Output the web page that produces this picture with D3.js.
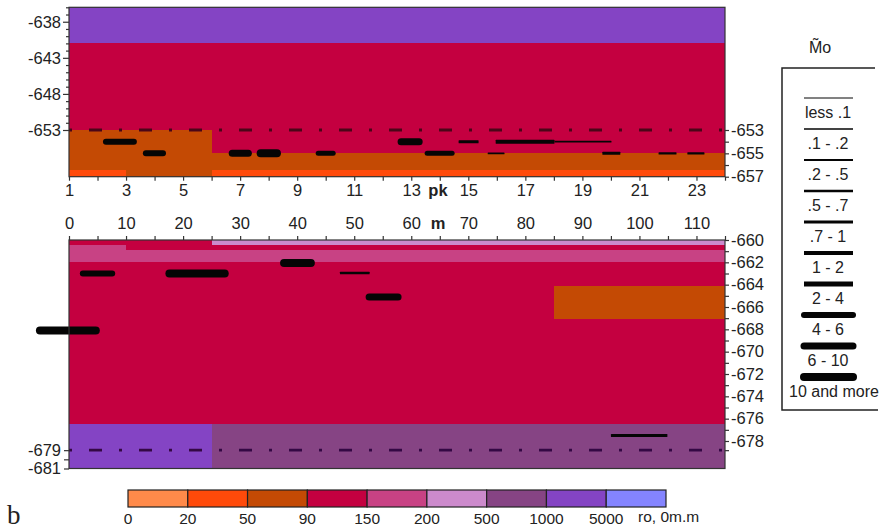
<!DOCTYPE html>
<html><head><meta charset="utf-8">
<script src="https://cdn.jsdelivr.net/npm/d3@7/dist/d3.min.js"></script>
<style>
body{margin:0;background:#fff;}
text{font-family:"Liberation Sans",Arial,Helvetica,sans-serif;fill:#222;}
</style></head><body>
<svg id="c" width="888" height="531"></svg>
<script>
// ---------------- DATA ----------------
const resLabels = ["0","20","50","90","150","200","500","1000","5000"];
const resUnit = "ro, 0m.m";
const moClasses = ["less .1",".1 - .2",".2 - .5",".5 - .7",".7 - 1","1 - 2","2 - 4","4 - 6","6 - 10","10 and more"];
const moTitle = "M\u0303o";

// upper section (pk, absolute depth, resistivity class index)
const pkLabels = [1,3,5,7,9,11,13,15,17,19,21,23];
const topDepthLabelsLeft = [-638,-643,-648,-653];
const topDepthLabelsRight = [-653,-655,-657];
const topLayers = [
  {x0:1, x1:24, d0:-636,  d1:-641,  c:7},
  {x0:1, x1:24, d0:-641,  d1:-653,  c:3},
  {x0:1, x1:6,  d0:-653,  d1:-657,  c:2},
  {x0:1, x1:3,  d0:-656.4,d1:-657,  c:1},
  {x0:6, x1:24, d0:-653,  d1:-655,  c:3},
  {x0:6, x1:24, d0:-655,  d1:-656.4,c:2},
  {x0:6, x1:24, d0:-656.4,d1:-657,  c:1}
];
const topBars = [
  {x0:2.19, x1:3.38, d:-654, c:7},
  {x0:3.59, x1:4.40, d:-655, c:7},
  {x0:6.60, x1:7.41, d:-655, c:8},
  {x0:7.58, x1:8.43, d:-655, c:9},
  {x0:9.65, x1:10.35,d:-655, c:6},
  {x0:12.52,x1:13.40,d:-654, c:8},
  {x0:13.47,x1:14.52,d:-655, c:6},
  {x0:14.66,x1:15.36,d:-654, c:4},
  {x0:15.96,x1:18.02,d:-654, c:5},
  {x0:18.02,x1:20.02,d:-654, c:2},
  {x0:15.68,x1:16.27,d:-655, c:2},
  {x0:19.70,x1:20.33,d:-655, c:4},
  {x0:21.67,x1:22.30,d:-655, c:3},
  {x0:22.68,x1:23.28,d:-655, c:3}
];
const topMarker = -653;

// lower section (m, absolute depth)
const mLabels = [0,10,20,30,40,50,60,70,80,90,100,110];
const lowDepthLabelsRight = [-660,-662,-664,-666,-668,-670,-672,-674,-676,-678];
const lowDepthLabelsLeft = [-679,-681];
const lowLayers = [
  {x0:0,  x1:115, d0:-660,   d1:-676.5, c:3},
  {x0:0,  x1:10,  d0:-660.45,d1:-662,   c:4},
  {x0:10, x1:115, d0:-660.9, d1:-662,   c:4},
  {x0:25, x1:115, d0:-660,   d1:-660.45,c:5},
  {x0:85, x1:115, d0:-664.1, d1:-667.1, c:2},
  {x0:0,  x1:25,  d0:-676.5, d1:-681,   c:7},
  {x0:25, x1:115, d0:-676.5, d1:-681,   c:6}
];
const lowBars = [
  {x0:-5.8, x1:5.4,  d:-668.1, c:9},
  {x0:1.9,  x1:8.1,  d:-663.0, c:7},
  {x0:16.9, x1:28.0, d:-663.0, c:9},
  {x0:37.0, x1:43.1, d:-662.05,c:9},
  {x0:47.5, x1:52.7, d:-662.95,c:3},
  {x0:52.0, x1:58.3, d:-665.1, c:8},
  {x0:95.0, x1:104.9,d:-677.5, c:4}
];
const lowMarker = -679;

// ---------------- STYLE / SCALES ----------------
const resColors = ["#FF8A4A","#FF4A0A","#C44A04","#C40040","#C84284","#CC8ACC","#864484","#8444C4","#8484FF"];
const lineW = d3.scaleOrdinal().domain(d3.range(10)).range([1,1.4,1.8,2.4,3,4,5,6,7,8]);

const svg = d3.select("#c");
const L = 69, R = 725;
const xPk = d3.scaleLinear().domain([1,24]).range([L,R]);
const xM  = d3.scaleLinear().domain([0,115]).range([L,R]);
const yTop = d3.scaleLinear().domain([-636,-653,-657]).range([7.3,130,176.7]);
const yLow = d3.scaleLinear().domain([-660,-678,-681]).range([240,441,468.5]);

function drawPanel(g, layers, bars, xs, ys, marker, markerColor){
  g.selectAll("rect.layer").data(layers).join("rect").attr("class","layer")
    .attr("x", d=>xs(d.x0)).attr("width", d=>xs(d.x1)-xs(d.x0))
    .attr("y", d=>ys(d.d0)).attr("height", d=>ys(d.d1)-ys(d.d0))
    .attr("fill", d=>resColors[d.c]).attr("shape-rendering","crispEdges");
  g.append("line").attr("x1",L).attr("x2",R).attr("y1",ys(marker)).attr("y2",ys(marker))
    .attr("stroke",markerColor).attr("stroke-width",2.8).attr("stroke-dasharray","13,17,3,17").attr("stroke-dashoffset",-20);
  g.selectAll("rect.bar").data(bars).join("rect").attr("class","bar")
    .attr("x", d=>xs(d.x0)).attr("width", d=>xs(d.x1)-xs(d.x0))
    .attr("y", d=>ys(d.d)-lineW(d.c)/2).attr("height", d=>lineW(d.c))
    .attr("rx", d=>d.c>=6 ? lineW(d.c)/2 : 0.5).attr("fill","#050505");
}

const gTop = svg.append("g");
drawPanel(gTop, topLayers, topBars, xPk, yTop, topMarker, "#4a0618");
const gLow = svg.append("g");
drawPanel(gLow, lowLayers, lowBars, xM, yLow, lowMarker, "#340844");

// frames
[[yTop(-636), yTop(-657)], [yLow(-660), yLow(-681)]].forEach(([a,b])=>{
  svg.append("rect").attr("x",L).attr("y",a).attr("width",R-L).attr("height",b-a)
    .attr("fill","none").attr("stroke","#333").attr("stroke-width",1.2);
});

function styleAxis(g){
  g.select(".domain").remove();
  g.selectAll("line").attr("stroke","#333").attr("stroke-width",1.2);
  g.selectAll("text").attr("font-size",16.5).attr("fill","#222").attr("font-family","'Liberation Sans',Arial,sans-serif");
}

// top panel axes
const fmtSet = (arr)=> d=> arr.includes(d) ? d : "";
svg.append("g").attr("transform",`translate(0,${yTop(-657)})`)
  .call(d3.axisBottom(xPk).tickValues(d3.range(1,25)).tickFormat(fmtSet(pkLabels)).tickSize(4).tickPadding(4))
  .call(styleAxis);
svg.append("g").attr("transform",`translate(${L},0)`)
  .call(d3.axisLeft(yTop).tickValues(d3.range(-636,-654,-1)).tickFormat(fmtSet(topDepthLabelsLeft)).tickSize(3).tickPadding(5))
  .call(styleAxis)
  .call(g=>g.selectAll(".tick").filter(d=>topDepthLabelsLeft.includes(d)).select("line").attr("x2",-6));
svg.append("g").attr("transform",`translate(${R},0)`)
  .call(d3.axisRight(yTop).tickValues(d3.range(-653,-658,-1)).tickFormat(fmtSet(topDepthLabelsRight)).tickSize(4).tickPadding(2))
  .call(styleAxis);

// lower panel axes
svg.append("g").attr("transform",`translate(0,${yLow(-660)})`)
  .call(d3.axisTop(xM).tickValues(d3.range(0,116,5)).tickFormat(fmtSet(mLabels)).tickSize(4).tickPadding(7))
  .call(styleAxis);
svg.append("g").attr("transform",`translate(${R},0)`)
  .call(d3.axisRight(yLow).tickValues(d3.range(-660,-680,-1)).tickFormat(fmtSet(lowDepthLabelsRight)).tickSize(4).tickPadding(2))
  .call(styleAxis);
svg.append("g").attr("transform",`translate(${L},0)`)
  .call(d3.axisLeft(yLow).tickValues([-679,-680,-681]).tickFormat(fmtSet(lowDepthLabelsLeft)).tickSize(5).tickPadding(3))
  .call(styleAxis);

// unit labels between axes
svg.append("text").attr("x",438).attr("y",196).attr("text-anchor","middle")
  .attr("font-size",16.5).attr("font-weight","bold").text("pk");
svg.append("text").attr("x",438).attr("y",229).attr("text-anchor","middle")
  .attr("font-size",16.5).attr("font-weight","bold").text("m");

// Mo legend
const lg = svg.append("g");
lg.append("path").attr("d","M875,68H782V410H878").attr("fill","none").attr("stroke","#222").attr("stroke-width",1.5);
lg.append("text").attr("x",820).attr("y",53).attr("text-anchor","middle").attr("font-size",16).text(moTitle);
const ly = d3.scaleLinear().domain([0,9]).range([98,377]);
moClasses.forEach((name,i)=>{
  const w = lineW(i);
  lg.append("line").attr("x1",804).attr("x2",853).attr("y1",ly(i)).attr("y2",ly(i))
    .attr("stroke","#050505").attr("stroke-width",w).attr("stroke-linecap", i>=7 ? "round":"butt");
  lg.append("text").attr("x", i===9 ? 834 : 828).attr("y",ly(i)+14).attr("dy","0.35em").attr("text-anchor","middle")
    .attr("font-size",16).text(name);
});

// colour bar
const cb = svg.append("g");
const cx = d3.scaleLinear().domain([0,9]).range([128,666]);
resLabels.forEach((lab,i)=>{
  cb.append("rect").attr("x",cx(i)).attr("y",490).attr("width",cx(i+1)-cx(i)).attr("height",17)
    .attr("fill",resColors[i]).attr("stroke","#222").attr("stroke-width",1.2);
  cb.append("text").attr("x",cx(i)).attr("y",524).attr("text-anchor","middle").attr("font-size",15.5).text(lab);
});
cb.append("text").attr("x",638).attr("y",522).attr("font-size",15.5).text(resUnit);

svg.append("text").attr("x",7).attr("y",524).attr("font-size",27)
  .style("font-family","'Liberation Serif','Times New Roman',serif").text("b");
</script>
</body></html>
